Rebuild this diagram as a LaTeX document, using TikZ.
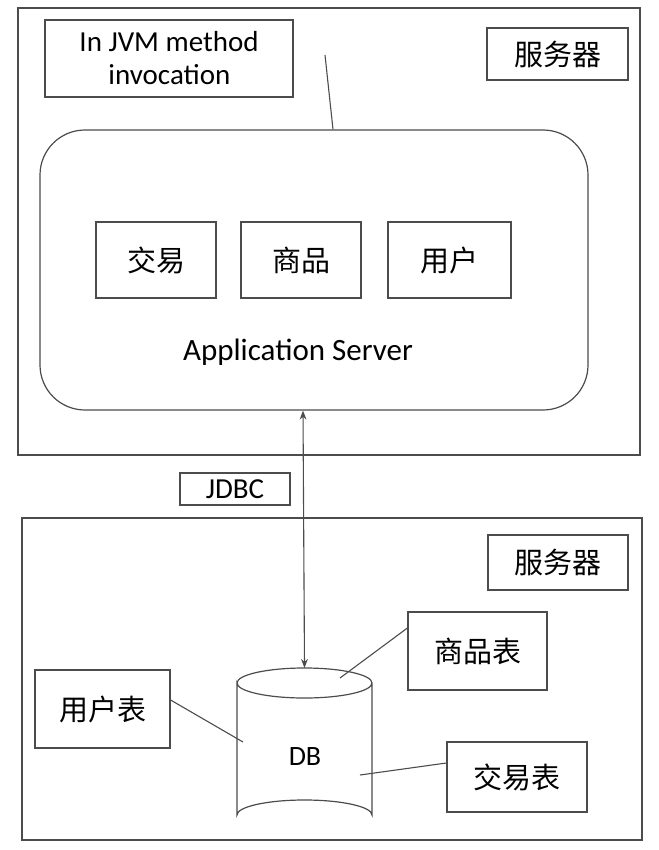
\documentclass[tikz,border=0pt]{standalone}
\usepackage{fontspec}
\setmainfont{Carlito}
\newfontfamily\cjk{Noto Sans CJK SC}
\usetikzlibrary{arrows.meta}
\begin{document}
\begin{tikzpicture}[x=1pt,y=-1pt,line width=1pt,draw=black!75,
  bx/.style={draw=black!70,line width=1.2pt,inner sep=0pt},
  cj/.style={font=\cjk\fontsize{29}{32}\selectfont},
  en/.style={font=\fontsize{31}{34}\selectfont},
  conn/.style={draw=black!70,line width=1.1pt}]
\useasboundingbox (0,0) rectangle (658,850);
\node[bx,minimum width=622pt,minimum height=447pt] (top) at (329,231.5) {};
\node[bx,minimum width=248pt,minimum height=77pt,align=left,font=\fontsize{29}{33}\selectfont] (jvm) at (169,58.5) {In JVM method\\\hspace*{1em}invocation};
\node[bx,cj,minimum width=141pt,minimum height=52pt] (s1) at (557.5,54) {服务器};
\node[bx,rounded corners=45pt,minimum width=548pt,minimum height=280pt] (app) at (314,270) {};
\node[bx,cj,minimum width=120pt,minimum height=76pt] (jy) at (156,260) {交易};
\node[bx,cj,minimum width=120pt,minimum height=76pt] (sp) at (301,260) {商品};
\node[bx,cj,minimum width=123pt,minimum height=76pt] (yh) at (449.5,260) {用户};
\node[en] (as) at (298,352) {Application Server};
\coordinate (jv) at (325,55);
\draw[conn] (jv) -- (app.north -| 333,0);
\node[bx,font=\fontsize{29}{32}\selectfont,minimum width=110pt,minimum height=32pt] (jdbc) at (235,489) {JDBC};
\node[bx,minimum width=620pt,minimum height=322pt] (bot) at (332,679) {};
\node[bx,cj,minimum width=140pt,minimum height=55pt] (s2) at (558,562.5) {服务器};
% cylinder
\draw[draw=black!70,line width=1.2pt] (237,683) arc[start angle=180,end angle=360,x radius=67.5,y radius=15]
  arc[start angle=0,end angle=180,x radius=67.5,y radius=15] -- (237,815)
  arc[start angle=180,end angle=360,x radius=67.5,y radius=15] -- (372,683);
\coordinate (cyltop) at (304.5,668);
\node[font=\fontsize{28}{30}\selectfont] (db) at (305,757) {DB};
\draw[conn,{Stealth[length=9pt]}-{Stealth[length=9pt]}] (app.south -| 303,0) -- (cyltop);
\node[bx,cj,minimum width=139pt,minimum height=78pt] (spb) at (477.5,651) {商品表};
\node[bx,cj,minimum width=135pt,minimum height=78pt] (yhb) at (102.5,709) {用户表};
\node[bx,cj,minimum width=140pt,minimum height=70pt] (jyb) at (517,777) {交易表};
\coordinate (c1) at (340,678);
\coordinate (c2) at (243,742);
\coordinate (c3) at (360,775);
\draw[conn] (c1) -- (spb.west |- 0,628);
\draw[conn] (c2) -- (yhb.east |- 0,700);
\draw[conn] (c3) -- (jyb.west |- 0,763);
\end{tikzpicture}
\end{document}
